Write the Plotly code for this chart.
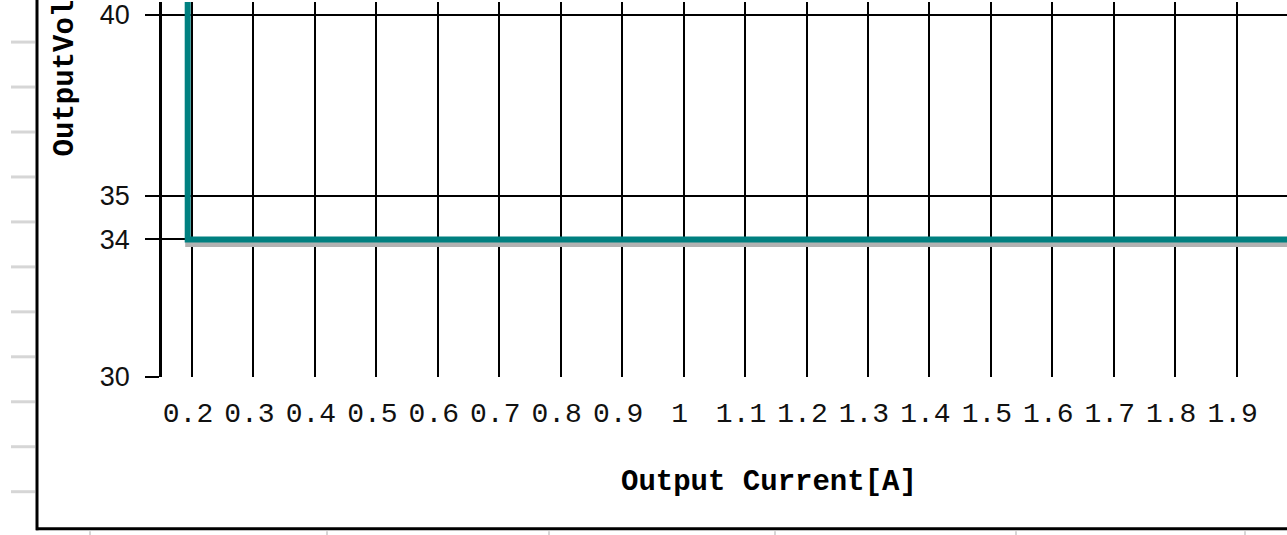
import plotly.graph_objects as go

# ---- data ----
current_a = [0.193, 0.193, 2.0]
voltage_v = [48.0, 33.8, 33.8]

x_tick_vals = [0.2, 0.3, 0.4, 0.5, 0.6, 0.7, 0.8, 0.9, 1.0,
               1.1, 1.2, 1.3, 1.4, 1.5, 1.6, 1.7, 1.8, 1.9, 2.0]
x_tick_labels = ["0.2", "0.3", "0.4", "0.5", "0.6", "0.7", "0.8", "0.9", "1",
                 "1.1", "1.2", "1.3", "1.4", "1.5", "1.6", "1.7", "1.8", "1.9", "2"]
y_tick_vals = [30, 33.8, 35, 40]
y_tick_labels = ["30", "34", "35", "40"]

x_title = "Output Current[A]"
y_title = "OutputVoltage[V]"

# ---- geometry ----
W, H = 1287, 535
L, T, R, B = 162, 0, 0, 158
PW, PH = W - L - R, H - T - B
X_PX_PER_UNIT = 614.5
Y_PX_PER_UNIT = 36.4
x0 = 0.2 - 30 / X_PX_PER_UNIT
x_range = [x0, x0 + PW / X_PX_PER_UNIT]
y_range = [30, 30 + PH / Y_PX_PER_UNIT]
SHADOW_PX = 5


def px2x(px):
    return (px - L) / PW


def py2y(py):
    return (T + PH - py) / PH


fig = go.Figure()

# soft drop shadow under the curve: same data, displaced a few pixels down
shadow_v = [v - SHADOW_PX / Y_PX_PER_UNIT for v in voltage_v]
fig.add_trace(go.Scatter(
    x=current_a, y=shadow_v, mode="lines",
    line=dict(color="#b2b2b2", width=5), hoverinfo="skip", showlegend=False,
))
fig.add_trace(go.Scatter(
    x=current_a, y=voltage_v, mode="lines",
    line=dict(color="#008080", width=6), showlegend=False,
))

shapes = []
# outer frame
shapes.append(dict(type="line", xref="paper", yref="paper",
                   x0=px2x(37), x1=px2x(37), y0=py2y(-5), y1=py2y(531),
                   line=dict(color="black", width=3)))
shapes.append(dict(type="line", xref="paper", yref="paper",
                   x0=px2x(36), x1=px2x(1300), y0=py2y(529.5), y1=py2y(529.5),
                   line=dict(color="black", width=3)))
# ruler marks outside the frame
for i in range(11):
    yy = 40.3 + 45.2 * i
    shapes.append(dict(type="line", xref="paper", yref="paper",
                       x0=px2x(11), x1=px2x(35), y0=py2y(yy), y1=py2y(yy),
                       line=dict(color="#d6d6d6", width=3)))
for xx in [90, 327, 549, 775, 1016, 1245]:
    shapes.append(dict(type="line", xref="paper", yref="paper",
                       x0=px2x(xx), x1=px2x(xx), y0=py2y(532), y1=py2y(537),
                       line=dict(color="#d6d6d6", width=2)))

annotations = [
    dict(text=x_title, xref="paper", yref="paper", x=px2x(768.5), y=py2y(483),
         xanchor="center", yanchor="middle", showarrow=False,
         font=dict(family="Liberation Mono", size=29, color="black", weight="bold")),
    dict(text=y_title, xref="paper", yref="paper", x=px2x(65), y=py2y(15.5),
         xanchor="center", yanchor="middle", showarrow=False, textangle=-90,
         font=dict(family="Liberation Mono", size=29, color="black", weight="bold")),
]

fig.update_layout(
    width=W, height=H,
    margin=dict(l=L, r=R, t=T, b=B, pad=0),
    paper_bgcolor="white", plot_bgcolor="white",
    showlegend=False,
    shapes=shapes,
    annotations=annotations,
    xaxis=dict(
        range=x_range, tickmode="array", tickvals=x_tick_vals, ticktext=x_tick_labels,
        showgrid=True, gridcolor="black", gridwidth=2,
        zeroline=False, showline=False, ticks="",
        ticklabelstandoff=16, ticklabelshift=-4, ticklabeloverflow="allow",
        tickfont=dict(family="Liberation Mono", size=28, color="#111111"),
    ),
    yaxis=dict(
        range=y_range, tickmode="array", tickvals=y_tick_vals, ticktext=y_tick_labels,
        showgrid=True, gridcolor="black", gridwidth=2,
        zeroline=False, showline=True, linecolor="black", linewidth=2.5,
        ticks="outside", ticklen=14, tickwidth=2, tickcolor="black",
        ticklabelstandoff=10, ticklabeloverflow="allow",
        tickfont=dict(family="Liberation Sans", size=27, color="#111111"),
    ),
)

fig.write_html("out.html", config={"displayModeBar": False},
               post_script="document.body.style.margin='0px';")
